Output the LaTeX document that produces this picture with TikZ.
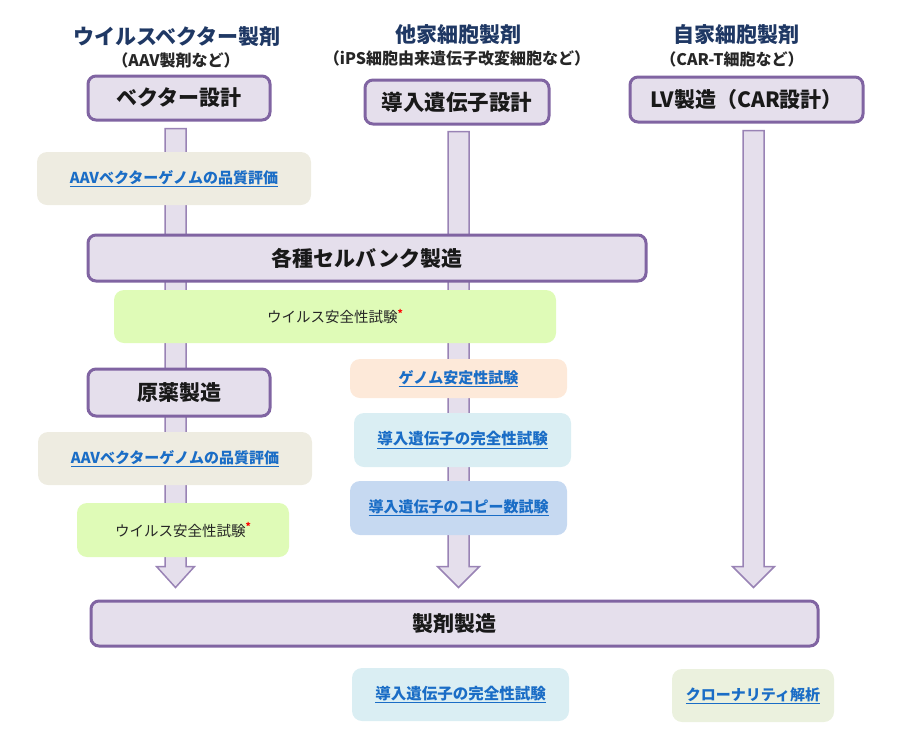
\documentclass[tikz,border=0pt]{standalone}
\usepackage{fontspec}
\setmainfont{Noto Sans CJK JP}
\usepackage{tikz}
\usetikzlibrary{positioning,calc,backgrounds}

\definecolor{lav}{HTML}{E5DFEC}
\definecolor{purp}{HTML}{8064A2}
\definecolor{navy}{HTML}{1F3864}
\definecolor{linkblue}{HTML}{1A6DC6}
\definecolor{beige}{HTML}{EEECE1}
\definecolor{lgreen}{HTML}{DFFBB7}
\definecolor{peach}{HTML}{FDE9D9}
\definecolor{lblue}{HTML}{DAEEF3}
\definecolor{mblue}{HTML}{C6D9F1}
\definecolor{olive}{HTML}{EBF1DE}

\tikzset{
  colhead/.style={inner sep=0pt,text=navy,font=\bfseries\fontsize{21}{24}\selectfont},
  colsub/.style={inner sep=0pt,text=black!85,font=\bfseries\fontsize{16}{19}\selectfont},
  procbox/.style={draw=purp,line width=3pt,fill=lav,rounded corners=8pt,
    inner sep=0pt,text=black!90,font=\bfseries\fontsize{21}{24}\selectfont},
  testbox/.style={rounded corners=10pt,inner sep=0pt,
    text=linkblue,font=\bfseries\fontsize{15}{18}\selectfont},
  safebox/.style={rounded corners=10pt,inner sep=0pt,fill=lgreen,
    text=black!85,font=\fontsize{14.5}{17}\selectfont},
  flowarrow/.style={fill=lav,draw=purp!80,line width=1.5pt,line join=miter}
}
\newcommand{\lnk}[1]{\underline{#1}}
\newcommand{\redstar}{\raisebox{0.4em}{\color{red}\bfseries\fontsize{10}{10}\selectfont *}}

\begin{document}
\begin{tikzpicture}[x=1pt,y=-1pt]
\useasboundingbox (0,0) rectangle (900,753);
% ---- column headings ----
\node[colhead] (h1) at (177,37) {ウイルスベクター製剤};
\node[colsub] (s1) at (176,60) {（AAV製剤など）};
\node[colhead] (h2) at (458,35) {他家細胞製剤};
\node[colsub] (s2) at (457,58) {（iPS細胞由来遺伝子改変細胞など）};
\node[colhead] (h3) at (736,35) {自家細胞製剤};
\node[colsub] (s3) at (732,59) {（CAR-T細胞など）};
% ---- process steps ----
\node[procbox,minimum width=182,minimum height=44] (vdesign) at (179,98) {ベクター設計};
\node[procbox,minimum width=184,minimum height=44,font=\bfseries\fontsize{21.5}{24}\selectfont] (gdesign) at (457,102) {導入遺伝子設計};
\node[procbox,minimum width=233,minimum height=45] (lvprod) at (746.5,99.5) {LV製造（CAR設計）};
\node[procbox,minimum width=558,minimum height=46] (cellbank) at (367,258) {各種セルバンク製造};
\node[procbox,minimum width=182,minimum height=47] (drugsub) at (179,392.5) {原薬製造};
\node[procbox,minimum width=727,minimum height=45] (formul) at (454.5,623.5) {製剤製造};
% ---- tests ----
\node[testbox,fill=beige,minimum width=274,minimum height=53] (aav1) at (174,178.5) {\lnk{AAVベクターゲノムの品質評価}};
\node[safebox,minimum width=442,minimum height=53] (virus1) at (335,316.5) {ウイルス安全性試験\redstar};
\node[testbox,fill=peach,minimum width=217,minimum height=39] (genome) at (458.5,378.5) {\lnk{ゲノム安定性試験}};
\node[testbox,fill=beige,minimum width=274,minimum height=53] (aav2) at (175,458.5) {\lnk{AAVベクターゲノムの品質評価}};
\node[safebox,minimum width=212,minimum height=54] (virus2) at (183,530) {ウイルス安全性試験\redstar};
\node[testbox,fill=lblue,minimum width=217,minimum height=54,font=\bfseries\fontsize{15.5}{18}\selectfont] (integ1) at (462.5,440) {\lnk{導入遺伝子の完全性試験}};
\node[testbox,fill=mblue,minimum width=217,minimum height=54] (copynum) at (458.5,508) {\lnk{導入遺伝子のコピー数試験}};
\node[testbox,fill=lblue,minimum width=217,minimum height=53,font=\bfseries\fontsize{15.5}{18}\selectfont] (integ2) at (460.5,694.5) {\lnk{導入遺伝子の完全性試験}};
\node[testbox,fill=olive,minimum width=162,minimum height=53] (clonal) at (753,695.5) {\lnk{クローナリティ解析}};
% ---- block arrows down to formulation ----
\begin{scope}[on background layer]
\foreach \src/\dx/\dy/\hw/\nm in {vdesign/-3.5/7/19/a, gdesign/1.5/6/21/b, lvprod/7/7/21/c} {
  \path ($(\src.south)+(\dx,\dy)$) coordinate (\nm s);
  \path (\nm s |- formul.north) ++(0,-12) coordinate (\nm e);
  \draw[flowarrow] ($(\nm s)+(-10.5,0)$) -- ($(\nm s)+(10.5,0)$) -- ($(\nm e)+(10.5,-21)$)
    -- ($(\nm e)+(\hw,-21)$) -- (\nm e) -- ($(\nm e)+(-\hw,-21)$) -- ($(\nm e)+(-10.5,-21)$) -- cycle;
}
\end{scope}
\end{tikzpicture}
\end{document}
